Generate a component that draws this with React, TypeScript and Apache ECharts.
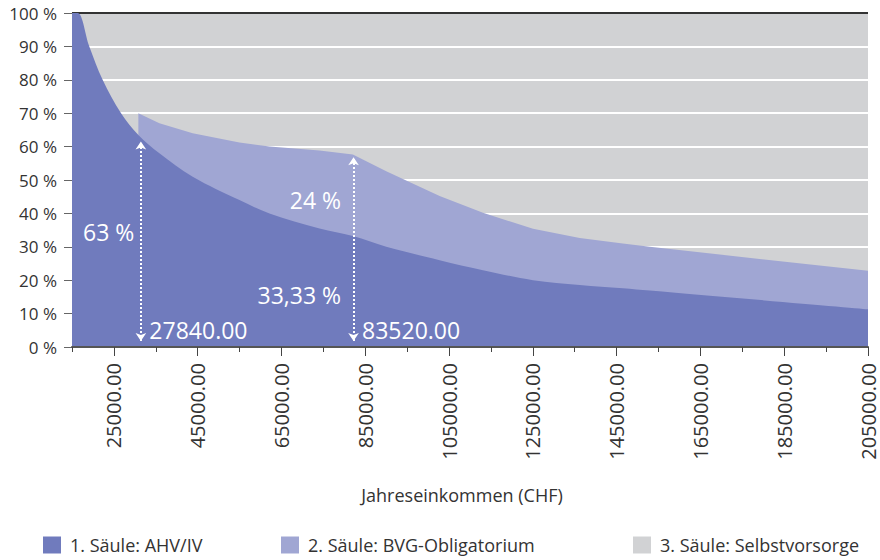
import React, { useEffect, useRef } from 'react';
import * as echarts from 'echarts';

const seriesNames = ['1. Säule: AHV/IV', '2. Säule: BVG-Obligatorium', '3. Säule: Selbstvorsorge'];

// Income (CHF) sample points
const incomes = [15000, 16340, 19130, 22310, 26710, 30840, 35860, 43810, 54970, 62140, 74080, 82040, 90010, 102750, 113090, 125040, 136190, 146470, 152910, 205000];
// 1st pillar share (%)
const ahvShare = [100, 100, 90, 80, 70, 63.5, 58, 51, 44, 40, 35.5, 33.2, 30, 26, 23, 20, 18.6, 17.6, 16.9, 11.3];
// 2nd pillar share (%) (null = not yet insured)
const bvgShare = [null, null, null, null, null, 6.5, 9, 13, 17.2, 20, 23.3, 24.4, 22.6, 19.2, 17.2, 15.4, 14, 13.4, 13.1, 11.5];

const xLabelTicks = [25000, 45000, 65000, 85000, 105000, 125000, 145000, 165000, 185000, 205000];
const xMinorTicks = [15000, 35000, 55000, 75000, 95000, 115000, 135000, 155000, 175000, 195000];

// Annotations
const arrowIncomes = [31440, 82200];
const arrowTops = [61.5, 56.8];
const arrowIncomeTexts = ['27840.00', '83520.00'];
const shareTexts = ['63 %', '24 %', '33,33 %'];
const shareTextIncomes = [31440, 82200, 82200];
const shareTextLevels = [34.4, 44, 15.6];
const incomeTextLevel = 5.1;

const DARK = '#707bbd';
const LIGHT = '#a0a6d3';
const GRAY = '#d1d2d4';
const FONT = 'Open Sans';

export default function App() {
  const ref = useRef<HTMLDivElement>(null);

  useEffect(() => {
    document.body.style.margin = '0';
    if (!ref.current) return;
    const chart = echarts.init(ref.current, undefined, { renderer: 'svg' });

    const ahvData = incomes.map((x, i) => [x, ahvShare[i]]);
    const bvgTop = incomes
      .map((x, i) => (bvgShare[i] == null ? null : [x, ahvShare[i] + (bvgShare[i] as number)]))
      .filter((d) => d !== null);
    const restData = incomes.map((x) => [x, 100]);

    const markPoints: any[] = [];
    shareTexts.forEach((t, i) => {
      markPoints.push({
        coord: [shareTextIncomes[i], shareTextLevels[i]],
        label: { formatter: t, position: 'left', distance: i === 0 ? 6 : 12 },
      });
    });
    arrowIncomeTexts.forEach((t, i) => {
      markPoints.push({
        coord: [arrowIncomes[i], incomeTextLevel],
        label: { formatter: t, position: 'right', distance: 8 },
      });
    });

    const splitColors = Array.from({ length: 11 }, (_, i) => (i === 10 ? '#333333' : '#ffffff'));

    const legendBase = {
      top: 531,
      itemWidth: 18,
      itemHeight: 17,
      icon: 'rect',
      textStyle: { fontSize: 18, color: '#333', fontFamily: FONT, padding: [0, 0, 0, 4] },
      selectedMode: false,
    };

    chart.setOption({
      animation: false,
      textStyle: { fontFamily: FONT },
      grid: { left: 72, right: 12, top: 13, bottom: 213 },
      legend: [
        { ...legendBase, left: 38, data: [seriesNames[0]] },
        { ...legendBase, left: 276, data: [seriesNames[1]] },
        { ...legendBase, left: 628, data: [seriesNames[2]] },
      ],
      xAxis: [
        {
          type: 'value',
          min: 15000,
          max: 205000,
          position: 'bottom',
          offset: 0,
          z: 4,
          axisLine: { show: true, lineStyle: { color: '#555', width: 2 } },
          axisTick: { show: true, customValues: xMinorTicks, length: 5, lineStyle: { color: '#444', width: 1 } },
          axisLabel: { show: false },
          splitLine: { show: false },
        },
        {
          type: 'value',
          min: 15000,
          max: 205000,
          position: 'bottom',
          offset: 0,
          z: 4,
          axisLine: { show: false },
          axisTick: { show: true, customValues: xLabelTicks, length: 9, lineStyle: { color: '#444', width: 1 } },
          axisLabel: {
            show: true,
            customValues: xLabelTicks,
            rotate: 90,
            fontSize: 20,
            color: '#333',
            margin: 16,
            fontFamily: FONT,
            formatter: (v: number) => v.toFixed(2),
          },
          splitLine: { show: false },
          name: 'Jahreseinkommen (CHF)',
          nameLocation: 'middle',
          nameGap: 139,
          nameTextStyle: { fontSize: 18, color: '#333', fontFamily: FONT, padding: [0, 16, 0, 0] },
        },
      ],
      yAxis: {
        type: 'value',
        min: 0,
        max: 100,
        interval: 10,
        z: 1.5,
        axisLine: { show: false },
        axisTick: { show: true, length: 8, lineStyle: { color: '#666' } },
        axisLabel: { fontSize: 17, color: '#333', margin: 15, fontFamily: FONT, formatter: (v: number) => v + ' %' },
        splitLine: { show: true, lineStyle: { color: splitColors, width: 2 } },
      },
      series: [
        {
          name: seriesNames[2],
          type: 'line',
          xAxisIndex: 0,
          data: restData,
          symbol: 'none',
          lineStyle: { width: 0 },
          itemStyle: { color: GRAY },
          areaStyle: { color: GRAY, opacity: 1 },
          z: 1,
          silent: true,
        },
        {
          name: seriesNames[1],
          type: 'line',
          xAxisIndex: 0,
          data: bvgTop,
          symbol: 'none',
          lineStyle: { width: 0 },
          itemStyle: { color: LIGHT },
          areaStyle: { color: LIGHT, opacity: 1 },
          z: 2,
          silent: true,
        },
        {
          name: seriesNames[0],
          type: 'line',
          xAxisIndex: 0,
          data: ahvData,
          symbol: 'none',
          smooth: 0.35,
          lineStyle: { width: 0 },
          itemStyle: { color: DARK },
          areaStyle: { color: DARK, opacity: 1 },
          z: 3,
          silent: true,
          markLine: {
            silent: true,
            symbol: ['arrow', 'arrow'],
            symbolSize: [8, 8],
            label: { show: false },
            lineStyle: { color: '#ffffff', type: 'dotted', width: 2 },
            data: arrowIncomes.map((x, i) => [{ coord: [x, 1.8] }, { coord: [x, arrowTops[i]] }]),
          },
          markPoint: {
            silent: true,
            symbol: 'circle',
            symbolSize: 1,
            itemStyle: { color: 'rgba(0,0,0,0)' },
            label: { show: true, color: '#ffffff', fontSize: 23, fontFamily: FONT },
            data: markPoints,
          },
        },
      ],
    });

    return () => chart.dispose();
  }, []);

  return <div ref={ref} style={{ width: 880, height: 560 }} />;
}
